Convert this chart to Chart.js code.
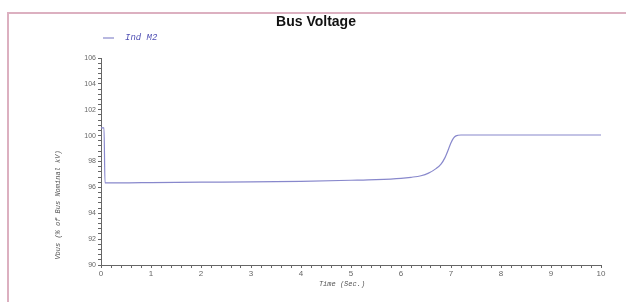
<!DOCTYPE html>
<html>
<head>
<meta charset="utf-8">
<script src="https://cdn.jsdelivr.net/npm/chart.js@4.4.0/dist/chart.umd.min.js"></script>
<style>
  html, body { margin: 0; padding: 0; background: #fff; }
  #wrap { position: relative; width: 626px; height: 302px; }
  #frame { position: absolute; left: 7px; top: 12px; width: 630px; height: 300px;
           border-left: 2px solid #dcb0c0; border-top: 2px solid #dcb0c0; box-sizing: border-box; }
  canvas { position: absolute; left: 0; top: 0; }
</style>
</head>
<body>
<div id="wrap">
  <div id="frame"></div>
  <canvas id="chart" width="626" height="302"></canvas>
</div>
<script>
// time in seconds, bus voltage in % of nominal kV
const timeSec = [0, 0.06, 0.08, 0.5, 1, 2, 3, 4, 5, 5.5, 6, 6.2, 6.4, 6.55, 6.7, 6.8, 6.88, 6.95, 7.0, 7.05, 7.1, 7.2, 7.5, 10];
const vbus = [100.6, 100.6, 96.35, 96.35, 96.37, 96.4, 96.42, 96.47, 96.55, 96.6, 96.7, 96.78, 96.9, 97.1, 97.45, 97.8, 98.3, 98.95, 99.45, 99.8, 99.98, 100.05, 100.05, 100.05];
const seriesName = 'Ind M2';
const chartTitle = 'Bus Voltage';
const xTitle = 'Time (Sec.)';
const yTitle = 'Vbus (% of Bus Nominal kV)';

const lineColor = '#8888cc';
const axisColor = '#666';

const labelsPlugin = {
  id: 'labels',
  afterDraw(chart) {
    const ctx = chart.ctx;
    ctx.save();
    // title
    ctx.fillStyle = '#111';
    ctx.font = 'bold 14px "Liberation Sans", Arial, sans-serif';
    ctx.textAlign = 'center';
    ctx.textBaseline = 'middle';
    ctx.fillText(chartTitle, 316, 22);
    // legend
    ctx.strokeStyle = lineColor;
    ctx.lineWidth = 1.2;
    ctx.beginPath();
    ctx.moveTo(103, 38);
    ctx.lineTo(114, 38);
    ctx.stroke();
    ctx.fillStyle = '#5050b4';
    ctx.font = 'italic 9px "Liberation Mono", "DejaVu Sans Mono", monospace';
    ctx.textAlign = 'left';
    ctx.fillText(seriesName, 125, 38);
    // axis titles
    ctx.fillStyle = '#555';
    ctx.font = 'italic 7px "Liberation Mono", "DejaVu Sans Mono", monospace';
    ctx.textAlign = 'center';
    ctx.fillText(xTitle, 342, 284);
    ctx.translate(58, 205);
    ctx.rotate(-Math.PI / 2);
    ctx.fillText(yTitle, 0, 0);
    ctx.restore();
  }
};

new Chart(document.getElementById('chart'), {
  type: 'line',
  data: {
    datasets: [{
      label: seriesName,
      data: timeSec.map((t, i) => ({ x: t, y: vbus[i] })),
      borderColor: lineColor,
      borderWidth: 1.2,
      pointRadius: 0,
      cubicInterpolationMode: 'monotone',
      fill: false
    }]
  },
  options: {
    responsive: false,
    animation: false,
    layout: { padding: { top: 58, right: 25, left: 0, bottom: 0 } },
    plugins: { legend: { display: false }, title: { display: false }, tooltip: { enabled: false } },
    scales: {
      x: {
        type: 'linear',
        min: 0,
        max: 10,
        afterFit(scale) { scale.height = 37; },
        border: { display: true, color: axisColor, width: 1 },
        grid: { drawOnChartArea: false, drawTicks: true, tickLength: 3, color: axisColor },
        ticks: {
          stepSize: 0.2,
          autoSkip: false,
          maxRotation: 0,
          padding: 1,
          color: '#666',
          font: { size: 8, family: '"Liberation Sans", Arial, sans-serif' },
          callback(value) {
            const v = Math.round(value * 10) / 10;
            return Math.abs(v - Math.round(v)) < 1e-6 ? String(Math.round(v)) : '';
          }
        }
      },
      y: {
        min: 90,
        max: 106,
        afterFit(scale) { scale.width = 101; },
        border: { display: true, color: axisColor, width: 1 },
        grid: { drawOnChartArea: false, drawTicks: true, tickLength: 3, color: axisColor },
        ticks: {
          stepSize: 0.4,
          autoSkip: false,
          padding: 2,
          color: '#666',
          font: { size: 7, family: '"Liberation Sans", Arial, sans-serif' },
          callback(value) {
            const v = Math.round(value * 10) / 10;
            return Math.abs(v / 2 - Math.round(v / 2)) < 1e-6 ? String(Math.round(v)) : '';
          }
        }
      }
    }
  },
  plugins: [labelsPlugin]
});
</script>
</body>
</html>
